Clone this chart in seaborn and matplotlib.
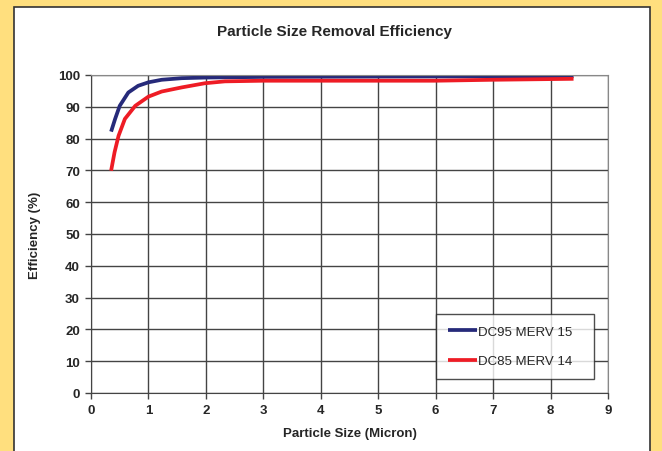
import pandas as pd
import numpy as np
import seaborn as sns
import matplotlib.pyplot as plt
from matplotlib.patches import Rectangle

# datos
size_dc95 = [0.35, 0.42, 0.5, 0.65, 0.82, 1.0, 1.23, 1.58, 2.0, 3.0, 5.0, 8.4]
eff_dc95 = [82.2, 86.2, 90.3, 94.5, 96.6, 97.7, 98.5, 99.0, 99.2, 99.4, 99.5, 99.6]
size_dc85 = [0.35, 0.41, 0.48, 0.59, 0.77, 1.0, 1.23, 1.58, 1.98, 2.33, 3.0, 6.0, 7.0, 8.4]
eff_dc85 = [69.9, 75.7, 80.9, 86.2, 90.3, 93.2, 94.8, 96.1, 97.4, 98.0, 98.2, 98.2, 98.5, 98.8]
series = ['DC95 MERV 15', 'DC85 MERV 14']

df = pd.concat([
    pd.DataFrame({'size': size_dc95, 'eff': eff_dc95, 'filtro': series[0]}),
    pd.DataFrame({'size': size_dc85, 'eff': eff_dc85, 'filtro': series[1]}),
])

sns.set_style('white')
plt.rcParams['font.family'] = ['Liberation Sans', 'DejaVu Sans']

fig = plt.figure(figsize=(6.62, 4.52), dpi=100)
fig.patch.set_facecolor('#FFDF7E')
# panel blanco
fig.patches.append(Rectangle((14 / 662, -0.05), (650 - 14) / 662, 1.05 - 8 / 452,
                             transform=fig.transFigure, facecolor='white',
                             edgecolor='#333333', linewidth=1.2, zorder=-5))

ax = fig.add_axes([91 / 662, 58 / 452, (608 - 91) / 662, (394 - 76) / 452])
ax.set_facecolor('white')

sns.lineplot(data=df, x='size', y='eff', hue='filtro', ax=ax,
             palette=['#262A7A', '#EE1C25'], linewidth=2.7, legend=False)
for ln in ax.get_lines():
    ln.set_solid_capstyle('butt')
    ln.set_solid_joinstyle('round')

ax.set_xlim(0, 9)
ax.set_ylim(0, 100)
ax.set_xticks(range(0, 10))
ax.set_yticks(range(0, 101, 10))
ax.grid(True, color='#444444', linewidth=1)
ax.set_axisbelow(True)
for s in ax.spines.values():
    s.set_color('#888888')
ax.spines['bottom'].set_color('#444444')
ax.spines['left'].set_color('#444444')
ax.tick_params(axis='both', direction='out', length=4, width=1, color='#444444',
               labelsize=9.5, pad=4)
ax.tick_params(left=True, bottom=True)
for lab in ax.get_xticklabels() + ax.get_yticklabels():
    lab.set_fontweight('bold')

ax.set_xlabel('Particle Size (Micron)', fontsize=9.5, fontweight='bold', labelpad=8)
ax.set_ylabel('Efficiency (%)', fontsize=9.5, fontweight='bold', labelpad=12)
fig.text(335 / 662, 1 - 32 / 452, 'Particle Size Removal Efficiency',
         ha='center', va='center', fontsize=11, fontweight='bold')

leg = ax.legend(ax.get_lines()[:2], series, loc='lower left',
                bbox_to_anchor=((436 - 91) / 517, (394 - 380) / 318, (594 - 436) / 517, (380 - 319) / 318),
                mode='expand', frameon=True, fancybox=False, fontsize=9.5,
                handlelength=2.2, handletextpad=0.1, labelspacing=1.3,
                borderpad=0.9, borderaxespad=0)
leg.get_frame().set_edgecolor('#222222')
leg.get_frame().set_linewidth(1)

fig.savefig('out.png', dpi=100, facecolor=fig.get_facecolor())
